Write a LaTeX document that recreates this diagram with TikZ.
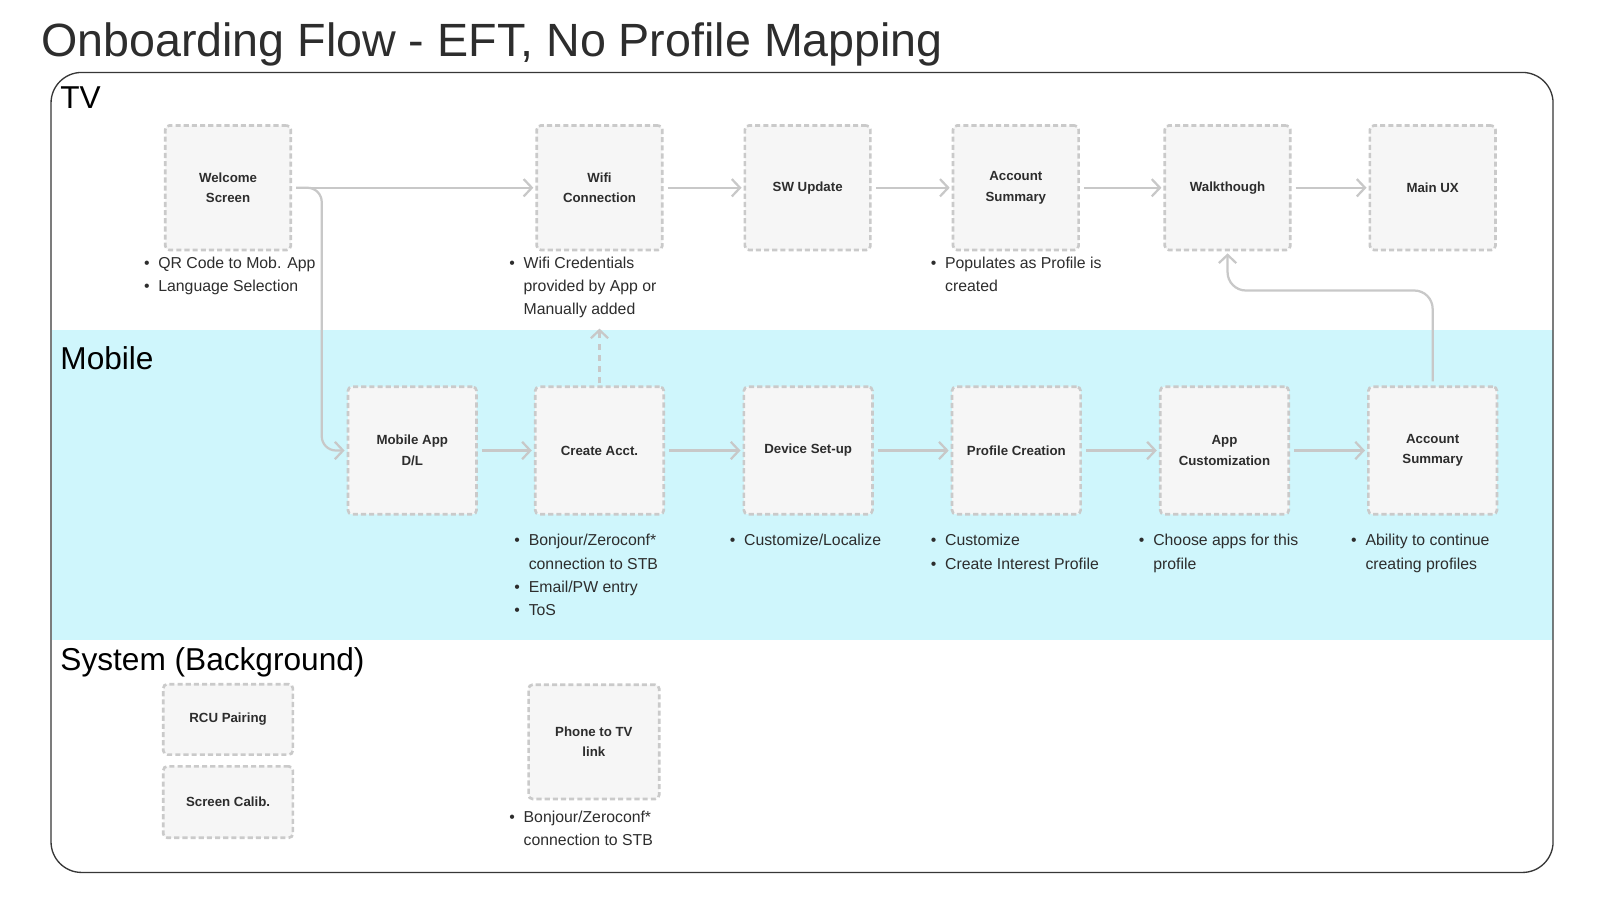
\documentclass[tikz,border=0pt]{standalone}
\usepackage{fontspec}
\setmainfont{Liberation Sans}
\usetikzlibrary{arrows.meta}
\definecolor{bandc}{RGB}{207,246,252}
\definecolor{boxfill}{RGB}{246,246,246}
\definecolor{boxline}{RGB}{202,202,202}
\definecolor{arrowc}{RGB}{200,200,200}
\definecolor{txt}{RGB}{45,45,45}
\definecolor{framec}{RGB}{55,55,55}
\newcommand{\bl}[1]{\makebox[14pt][l]{\textbullet}#1}
\newcommand{\nb}[1]{\hspace*{14pt}#1}
\tikzset{
  stepbox/.style={draw=boxline, fill=boxfill, line width=2.6pt, dash pattern=on 5pt off 3pt,
    rounded corners=4pt, minimum width=123pt, minimum height=122pt, align=center,
    font=\fontsize{13}{20}\selectfont\bfseries, text=txt, inner sep=2pt},
  mobbox/.style={stepbox, minimum width=126pt, minimum height=125pt},
  note/.style={anchor=north west, inner sep=0pt, align=left,
    font=\fontsize{15.5}{22.7}\selectfont, text=txt},
  arr/.style={draw=arrowc, line width=2.2pt, -{Straight Barb[length=8pt,width=17pt]},
    shorten <=4pt, shorten >=2pt},
  lane/.style={anchor=base west, font=\fontsize{31}{36}\selectfont, text=black, inner sep=0pt},
}
\begin{document}
\begin{tikzpicture}[x=1pt,y={(0pt,-1pt)}]
\useasboundingbox (0,0) rectangle (1568,882);
\fill[white] (0,0) rectangle (1568,882);
% title
\node[anchor=base west, inner sep=0pt, font=\fontsize{45.7}{54}\selectfont, text=txt] (title) at (40,55) {Onboarding Flow - EFT, No Profile Mapping};
% mobile band
\fill[bandc] (50.5,323) rectangle (1521.5,627);
% frame
\draw[framec, line width=1.3pt, rounded corners=30pt] (50,71) rectangle (1522,855);
% lane labels
\node[lane] (ltv) at (59,106) {TV};
\node[lane] (lmob) at (59,362) {Mobile};
\node[lane] (lsys) at (59,657) {System (Background)};
% TV row
\node[stepbox] (W) at (223.5,184) {Welcome\\Screen};
\node[stepbox] (WF) at (587.5,184) {Wifi\\Connection};
\node[stepbox] (SW) at (791.5,184) {SW Update};
\node[stepbox] (AS1) at (995.5,184) {Account\\Summary};
\node[stepbox] (WT) at (1203,184) {Walkthough};
\node[stepbox] (MU) at (1404,184) {Main UX};
% Mobile row
\node[mobbox] (MA) at (404,441.5) {Mobile App\\D/L};
\node[mobbox] (CA) at (587.5,441.5) {Create Acct.};
\node[mobbox] (DS) at (792,441.5) {Device Set-up};
\node[mobbox] (PC) at (996,441.5) {Profile Creation};
\node[mobbox] (AC) at (1200,441.5) {App\\Customization};
\node[mobbox] (AS2) at (1404,441.5) {Account\\Summary};
% System row
\node[stepbox, minimum width=127pt, minimum height=69pt] (RCU) at (223.5,705) {RCU Pairing};
\node[stepbox, minimum width=127pt, minimum height=70pt] (SC) at (223.5,786) {Screen Calib.};
\node[stepbox, minimum width=128pt, minimum height=112pt] (PT) at (582,727) {Phone to TV\\link};
% notes
\node[note] (nW) at (141,251.5) {\bl{QR Code to Mob. App}\\\bl{Language Selection}};
\node[note] (nWF) at (499,251.5) {\bl{Wifi Credentials}\\\nb{provided by App or}\\\nb{Manually added}};
\node[note] (nAS1) at (912,251.5) {\bl{Populates as Profile is}\\\nb{created}};
\node[note] (nCA) at (504,523.5) {\bl{Bonjour/Zeroconf*}\\\nb{connection to STB}\\\bl{Email/PW entry}\\\bl{ToS}};
\node[note] (nDS) at (715,523.5) {\bl{Customize/Localize}};
\node[note] (nPC) at (912,523.5) {\bl{Customize}\\\bl{Create Interest Profile}};
\node[note] (nAC) at (1116,523.5) {\bl{Choose apps for this}\\\nb{profile}};
\node[note] (nAS2) at (1324,523.5) {\bl{Ability to continue}\\\nb{creating profiles}};
\node[note] (nPT) at (499,794.5) {\bl{Bonjour/Zeroconf*}\\\nb{connection to STB}};
% connectors TV
\draw[arr] (W.east) -- (WF.west);
\draw[arr] (WF.east) -- (SW.west);
\draw[arr] (SW.east) -- (AS1.west);
\draw[arr] (AS1.east) -- (WT.west);
\draw[arr] (WT.east) -- (MU.west);
% Welcome to mobile app
\draw[arr, rounded corners=14pt] (W.east) -- ([xshift=29pt]W.east) |- (MA.west);
% connectors mobile
\draw[arr] (MA.east) -- (CA.west);
\draw[arr] (CA.east) -- (DS.west);
\draw[arr] (DS.east) -- (PC.west);
\draw[arr] (PC.east) -- (AC.west);
\draw[arr] (AC.east) -- (AS2.west);
% dashed to wifi
\coordinate (wifiUp) at (587.5,322);
\draw[arr, dash pattern=on 6pt off 5pt, shorten <=2pt, shorten >=0pt] (CA.north) -- (wifiUp);
% account summary back to walkthough
\draw[arr, rounded corners=18pt] (AS2.north) -- ++(0,-93) -| (WT.south);
\end{tikzpicture}
\end{document}
